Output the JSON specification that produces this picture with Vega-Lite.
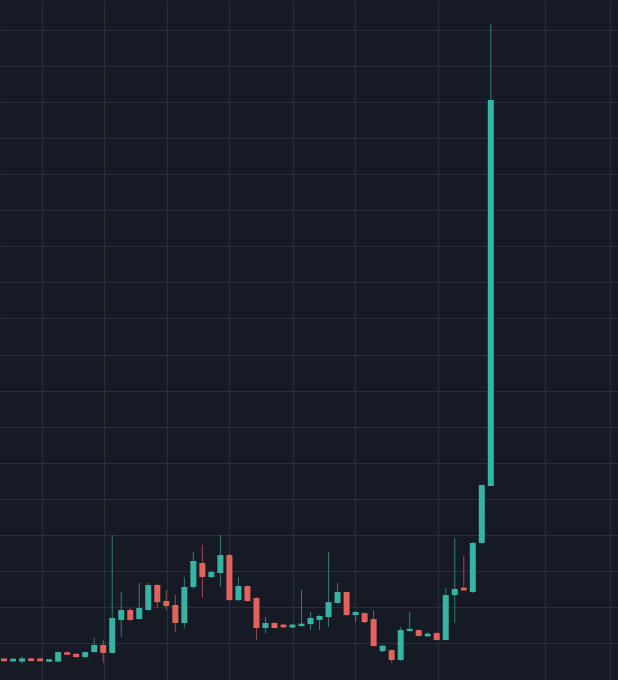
{
  "$schema": "https://vega.github.io/schema/vega-lite/v6.json",
  "width": 618,
  "height": 680,
  "autosize": {"type": "fit", "contains": "padding"},
  "padding": 0,
  "background": "#161a25",
  "config": {
    "view": {"stroke": null},
    "axis": {"labels": false, "ticks": false, "domain": false, "title": null, "grid": true, "gridColor": "#282d3a", "gridWidth": 1.2, "minExtent": 0, "maxExtent": 0}
  },
  "data": {"values": [
    {"i": 0, "open": 1.14, "high": 1.16, "low": 0.98, "close": 0.99},
    {"i": 1, "open": 0.98, "high": 1.16, "low": 0.96, "close": 1.13},
    {"i": 2, "open": 0.97, "high": 1.25, "low": 0.86, "close": 1.15},
    {"i": 3, "open": 1.15, "high": 1.18, "low": 0.98, "close": 1.00},
    {"i": 4, "open": 1.14, "high": 1.20, "low": 0.97, "close": 0.99},
    {"i": 5, "open": 0.96, "high": 1.12, "low": 0.94, "close": 1.10},
    {"i": 6, "open": 0.97, "high": 1.55, "low": 0.95, "close": 1.50},
    {"i": 7, "open": 1.49, "high": 1.52, "low": 1.33, "close": 1.35},
    {"i": 8, "open": 1.40, "high": 1.43, "low": 1.20, "close": 1.22},
    {"i": 9, "open": 1.22, "high": 1.55, "low": 1.20, "close": 1.50},
    {"i": 10, "open": 1.50, "high": 2.28, "low": 1.45, "close": 1.89},
    {"i": 11, "open": 1.89, "high": 2.17, "low": 0.89, "close": 1.45},
    {"i": 12, "open": 1.45, "high": 7.99, "low": 1.40, "close": 3.39},
    {"i": 13, "open": 3.28, "high": 4.83, "low": 2.33, "close": 3.83},
    {"i": 14, "open": 3.83, "high": 3.95, "low": 3.20, "close": 3.28},
    {"i": 15, "open": 3.33, "high": 5.33, "low": 3.30, "close": 3.94},
    {"i": 16, "open": 3.83, "high": 5.33, "low": 3.80, "close": 5.22},
    {"i": 17, "open": 5.22, "high": 5.30, "low": 3.94, "close": 4.27},
    {"i": 18, "open": 4.33, "high": 4.94, "low": 3.83, "close": 4.05},
    {"i": 19, "open": 4.11, "high": 4.66, "low": 2.61, "close": 3.11},
    {"i": 20, "open": 3.11, "high": 5.66, "low": 2.83, "close": 5.11},
    {"i": 21, "open": 5.11, "high": 7.05, "low": 5.00, "close": 6.55},
    {"i": 22, "open": 6.44, "high": 7.44, "low": 4.50, "close": 5.66},
    {"i": 23, "open": 5.66, "high": 6.00, "low": 5.60, "close": 5.94},
    {"i": 24, "open": 5.88, "high": 7.99, "low": 5.11, "close": 6.88},
    {"i": 25, "open": 6.88, "high": 6.95, "low": 4.35, "close": 4.38},
    {"i": 26, "open": 4.38, "high": 5.66, "low": 4.30, "close": 5.16},
    {"i": 27, "open": 5.16, "high": 5.20, "low": 4.30, "close": 4.33},
    {"i": 28, "open": 4.50, "high": 4.55, "low": 2.17, "close": 2.83},
    {"i": 29, "open": 2.83, "high": 3.44, "low": 2.55, "close": 3.11},
    {"i": 30, "open": 3.11, "high": 3.15, "low": 2.80, "close": 2.83},
    {"i": 31, "open": 3.02, "high": 3.05, "low": 2.84, "close": 2.87},
    {"i": 32, "open": 2.86, "high": 3.06, "low": 2.82, "close": 3.02},
    {"i": 33, "open": 2.94, "high": 4.94, "low": 2.90, "close": 3.07},
    {"i": 34, "open": 3.05, "high": 3.72, "low": 2.72, "close": 3.39},
    {"i": 35, "open": 3.28, "high": 3.55, "low": 2.72, "close": 3.50},
    {"i": 36, "open": 3.44, "high": 7.05, "low": 2.89, "close": 4.27},
    {"i": 37, "open": 4.22, "high": 5.33, "low": 4.20, "close": 4.83},
    {"i": 38, "open": 4.83, "high": 4.85, "low": 3.50, "close": 3.55},
    {"i": 39, "open": 3.55, "high": 3.75, "low": 3.16, "close": 3.72},
    {"i": 40, "open": 3.66, "high": 3.70, "low": 3.10, "close": 3.16},
    {"i": 41, "open": 3.33, "high": 3.83, "low": 1.80, "close": 1.83},
    {"i": 42, "open": 1.55, "high": 1.90, "low": 1.50, "close": 1.85},
    {"i": 43, "open": 1.61, "high": 1.65, "low": 0.89, "close": 1.06},
    {"i": 44, "open": 1.06, "high": 2.89, "low": 1.00, "close": 2.72},
    {"i": 45, "open": 2.66, "high": 3.72, "low": 2.64, "close": 2.79},
    {"i": 46, "open": 2.72, "high": 2.75, "low": 2.35, "close": 2.39},
    {"i": 47, "open": 2.37, "high": 2.60, "low": 2.35, "close": 2.52},
    {"i": 48, "open": 2.55, "high": 2.60, "low": 2.15, "close": 2.17},
    {"i": 49, "open": 2.17, "high": 5.05, "low": 2.15, "close": 4.66},
    {"i": 50, "open": 4.66, "high": 7.82, "low": 3.11, "close": 5.00},
    {"i": 51, "open": 5.07, "high": 6.83, "low": 4.90, "close": 4.92},
    {"i": 52, "open": 4.83, "high": 7.60, "low": 4.77, "close": 7.55},
    {"i": 53, "open": 7.55, "high": 10.80, "low": 7.50, "close": 10.76},
    {"i": 54, "open": 10.71, "high": 36.33, "low": 10.70, "close": 32.11}
  ]},
  "encoding": {
    "x": {
      "field": "i", "type": "quantitative",
      "scale": {"domain": [-0.45, 68.11], "nice": false, "zero": false, "padding": 0},
      "axis": {"values": [4.2, 11.1, 18.1, 25, 32, 38.9, 48.1, 60, 67.2]}
    },
    "color": {
      "condition": {"test": "datum.close >= datum.open", "value": "#37b3a3"},
      "value": "#e3625c"
    }
  },
  "layer": [
    {
      "mark": {"type": "rule", "strokeWidth": 1, "opacity": 0.65},
      "encoding": {
        "y": {
          "field": "low", "type": "quantitative",
          "scale": {"domain": [-0.05, 37.66], "nice": false, "zero": false},
          "axis": {"values": [2, 4, 6, 8, 10, 12, 14, 16, 18, 20, 22, 24, 26, 28, 30, 32, 34, 36]}
        },
        "y2": {"field": "high"}
      }
    },
    {
      "mark": {"type": "bar", "size": 6},
      "encoding": {
        "y": {
          "field": "open", "type": "quantitative",
          "scale": {"domain": [-0.05, 37.66], "nice": false, "zero": false},
          "axis": {"values": [2, 4, 6, 8, 10, 12, 14, 16, 18, 20, 22, 24, 26, 28, 30, 32, 34, 36]}
        },
        "y2": {"field": "close"}
      }
    }
  ]
}
